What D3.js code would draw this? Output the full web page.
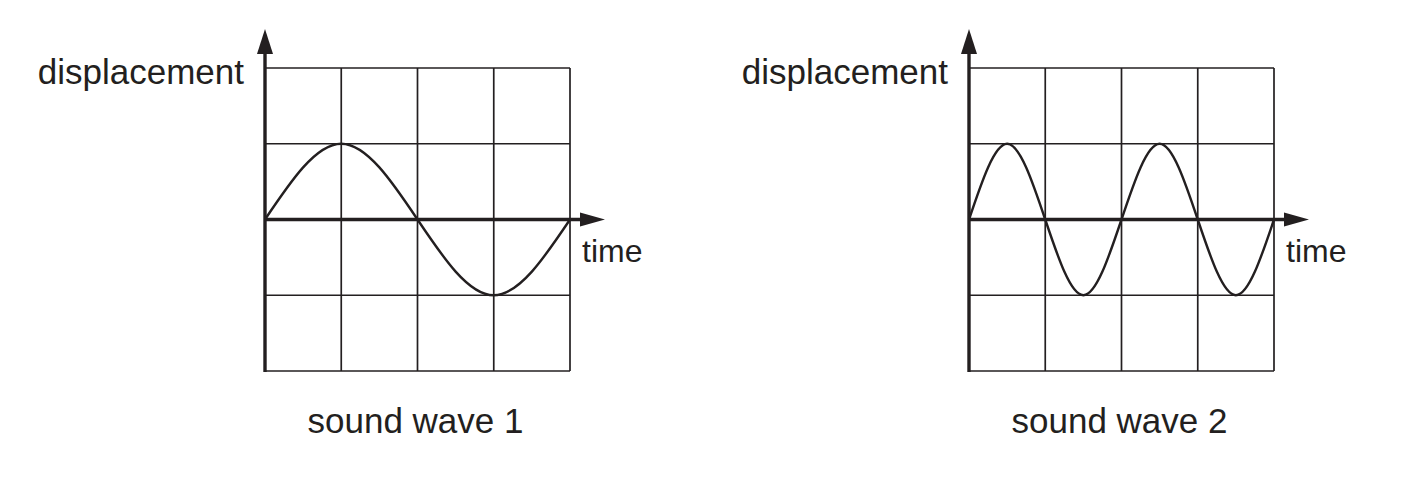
<!DOCTYPE html>
<html>
<head>
<meta charset="utf-8">
<script src="https://cdn.jsdelivr.net/npm/d3@7"></script>
<style>
  html, body { margin: 0; padding: 0; background: #fff; }
  svg { display: block; }
  text { font-family: "Liberation Sans", Arial, sans-serif; fill: #231f20; }
</style>
</head>
<body>
<svg id="chart" width="1426" height="480"></svg>
<script>
// Data (grid units: x = time cells 0..4, y = displacement cells -2..2)
const panelTitles = ["sound wave 1", "sound wave 2"];
const yLabel = "displacement";
const xLabel = "time";
const gridX = [0, 1, 2, 3, 4];
const gridY = [-2, -1, 0, 1, 2];
const wave1Time = [0, 1, 2, 3, 4];
const wave1Disp = [0, 1, 0, -1, 0];
const wave2Time = [0, 0.5, 1, 1.5, 2, 2.5, 3, 3.5, 4];
const wave2Disp = [0, 1, 0, -1, 0, 1, 0, -1, 0];

(function () {
  const panels = [
    { title: panelTitles[0], t: wave1Time, d: wave1Disp, left: 265, right: 570 },
    { title: panelTitles[1], t: wave2Time, d: wave2Disp, left: 969, right: 1274 }
  ];
  const gTop = 68, gBottom = 371;
  const ink = "#231f20";
  const svg = d3.select("#chart");

  panels.forEach(p => {
    const x = d3.scaleLinear().domain([0, 4]).range([p.left, p.right]);
    const y = d3.scaleLinear().domain([-2, 2]).range([gBottom, gTop]);
    const g = svg.append("g");

    // grid
    g.selectAll("line.v").data(gridX.slice(1)).join("line")
      .attr("class", "v")
      .attr("x1", d => x(d)).attr("x2", d => x(d))
      .attr("y1", y(-2)).attr("y2", y(2))
      .attr("stroke", ink).attr("stroke-width", 1.7);
    g.selectAll("line.h").data(gridY.filter(v => v !== 0)).join("line")
      .attr("class", "h")
      .attr("x1", x(0)).attr("x2", x(4))
      .attr("y1", d => y(d)).attr("y2", d => y(d))
      .attr("stroke", ink).attr("stroke-width", 1.7);

    // wave
    const pts = p.t.map((t, i) => [t, p.d[i]]);
    g.append("path")
      .datum(pts)
      .attr("d", d3.line().x(d => x(d[0])).y(d => y(d[1])).curve(d3.curveNatural))
      .attr("fill", "none").attr("stroke", ink).attr("stroke-width", 2.4);

    // axes
    const x0 = x(0), y0 = y(0);
    const xTip = x(4) + 35, yTip = gTop - 39;
    g.append("line").attr("x1", x0).attr("x2", xTip - 20).attr("y1", y0).attr("y2", y0)
      .attr("stroke", ink).attr("stroke-width", 3.4);
    g.append("line").attr("x1", x0).attr("x2", x0).attr("y1", gBottom + 1).attr("y2", yTip + 20)
      .attr("stroke", ink).attr("stroke-width", 3.4);
    g.append("path")
      .attr("d", `M${xTip},${y0} L${xTip - 25},${y0 - 7} L${xTip - 25},${y0 + 7} Z`)
      .attr("fill", ink);
    g.append("path")
      .attr("d", `M${x0},${yTip} L${x0 - 8},${yTip + 25} L${x0 + 8},${yTip + 25} Z`)
      .attr("fill", ink);

    // labels
    g.append("text").attr("x", x0 - 21).attr("y", 84)
      .attr("text-anchor", "end").attr("font-size", 35).text(yLabel);
    g.append("text").attr("x", x(4) + 12).attr("y", 262)
      .attr("text-anchor", "start").attr("font-size", 32).text(xLabel);
    g.append("text").attr("x", (p.left + p.right) / 2 - 2).attr("y", 433)
      .attr("text-anchor", "middle").attr("font-size", 35).text(p.title);
  });
})();
</script>
</body>
</html>
